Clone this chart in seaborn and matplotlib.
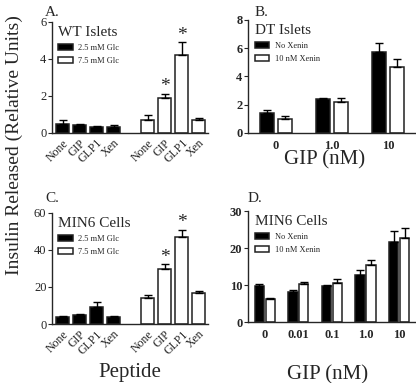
import numpy as np
import pandas as pd
import matplotlib
matplotlib.use('Agg')
import matplotlib.pyplot as plt
import seaborn as sns

# panels A and C: peptide stimulation at two glucose levels
peptides = ['None', 'GIP', 'GLP1', 'Xen']
glucose = ['2.5 mM Glc', '7.5 mM Glc']
wt_low = [0.5, 0.4, 0.3, 0.3]
wt_low_err = [0.2, 0.1, 0.05, 0.12]
wt_high = [0.7, 1.9, 4.2, 0.7]
wt_high_err = [0.25, 0.22, 0.7, 0.12]
min6_low = [4.0, 5.0, 9.0, 3.8]
min6_low_err = [0.3, 0.3, 3.0, 0.3]
min6_high = [14.0, 29.5, 47.0, 17.0]
min6_high_err = [1.6, 2.8, 4.0, 0.8]
starred = ['GIP', 'GLP1']

# panels B and D: GIP dose with / without xenin
xenin = ['No Xenin', '10 nM Xenin']
gip_dt = ['0', '1.0', '10']
dt_none = [1.4, 2.4, 5.7]
dt_none_err = [0.25, 0.1, 0.65]
dt_xen = [0.95, 2.2, 4.65]
dt_xen_err = [0.25, 0.25, 0.6]
gip_min6 = ['0', '0.01', '0.1', '1.0', '10']
m6_none = [9.8, 8.0, 9.8, 12.8, 21.7]
m6_none_err = [0.4, 0.7, 0.15, 1.2, 3.0]
m6_xen = [6.2, 10.2, 10.5, 15.3, 22.7]
m6_xen_err = [0.2, 0.5, 1.1, 1.4, 2.8]

sns.set_style('ticks')
plt.rcParams['font.family'] = ['Liberation Serif', 'DejaVu Serif']
plt.rcParams['axes.linewidth'] = 1.0

EDGE = '#202020'


def add_errors(ax, errs, stars=None):
    for k, (cont, err) in enumerate(zip(ax.containers, errs)):
        xs = [b.get_x() + b.get_width() / 2 for b in cont]
        ys = [b.get_height() for b in cont]
        ax.errorbar(xs, ys, yerr=[np.zeros(len(err)), err], fmt='none',
                    ecolor='black', elinewidth=1.0, capsize=3, capthick=1.0, zorder=1)
        if stars is not None:
            for x, y, e, s in zip(xs, ys, err, stars[k]):
                if s:
                    ax.annotate('*', (x, y + e), xytext=(0, -1), textcoords='offset points',
                                ha='center', va='bottom', fontsize=14)


def style_legend(ax, title, title_size=11):
    handles, labels = ax.get_legend_handles_labels()
    ax.legend(handles, labels, title=title, loc='upper left', bbox_to_anchor=(0.02, 0.99),
              frameon=False, fontsize=6, title_fontsize=title_size, alignment='left',
              handlelength=1.7, handleheight=0.8, labelspacing=0.55, handletextpad=0.7,
              borderaxespad=0.2, borderpad=0.2)


def peptide_panel(ax, low, low_err, high, high_err, title, ymax, step):
    lo_keys = [p + '|lo' for p in peptides]
    hi_keys = [p + '|hi' for p in peptides]
    order = lo_keys + ['gap'] + hi_keys
    df = pd.DataFrame({'slot': lo_keys + hi_keys, 'value': low + high,
                       'glc': [glucose[0]] * 4 + [glucose[1]] * 4})
    sns.barplot(data=df, x='slot', y='value', hue='glc', order=order, hue_order=glucose,
                palette=['black', 'white'], dodge=False, width=0.76, edgecolor=EDGE,
                linewidth=1.1, errorbar=None, ax=ax)
    stars = [[False] * 4, [p in starred for p in peptides]]
    add_errors(ax, [low_err, high_err], stars)
    ax.set_xlim(-0.62, 8.55)
    ax.set_ylim(0, ymax)
    ax.set_yticks(np.arange(0, ymax + step / 2, step))
    ax.set_xticks(range(len(order)))
    ax.set_xticklabels(peptides + [''] + peptides, rotation=45, ha='right',
                       rotation_mode='anchor', fontsize=8.5)
    ax.tick_params(axis='x', length=0, pad=3)
    ax.tick_params(axis='y', length=3, labelsize=9, pad=1)
    style_legend(ax, title)


def dose_panel(ax, doses, none, none_err, xen, xen_err, title, ymax, step, width, gap):
    df = pd.DataFrame({'gip': doses * 2, 'value': none + xen,
                       'xen': [xenin[0]] * len(doses) + [xenin[1]] * len(doses)})
    sns.barplot(data=df, x='gip', y='value', hue='xen', order=doses, hue_order=xenin,
                palette=['black', 'white'], width=width, gap=gap, edgecolor=EDGE,
                linewidth=1.1, errorbar=None, ax=ax)
    add_errors(ax, [none_err, xen_err])
    ax.set_xlim(-0.5, len(doses) - 0.5)
    ax.set_ylim(0, ymax)
    ax.set_yticks(np.arange(0, ymax + step / 2, step))
    ax.tick_params(axis='x', length=0, pad=5, labelsize=9)
    ax.tick_params(axis='y', length=3, labelsize=9, pad=1)
    for lab in ax.get_xticklabels() + ax.get_yticklabels():
        lab.set_fontweight('bold')
    style_legend(ax, title)


fig = plt.figure(figsize=(4.16, 3.83), dpi=100)
axA = fig.add_axes([0.125, 0.653, 0.375, 0.29])
axB = fig.add_axes([0.596, 0.653, 0.404, 0.295])
axC = fig.add_axes([0.125, 0.154, 0.375, 0.29])
axD = fig.add_axes([0.596, 0.159, 0.404, 0.29])

peptide_panel(axA, wt_low, wt_low_err, wt_high, wt_high_err, 'WT Islets', 6, 2)
peptide_panel(axC, min6_low, min6_low_err, min6_high, min6_high_err, 'MIN6 Cells', 60, 20)
dose_panel(axB, gip_dt, dt_none, dt_none_err, dt_xen, dt_xen_err, 'DT Islets', 8, 2, 0.625, 0.2)
dose_panel(axD, gip_min6, m6_none, m6_none_err, m6_xen, m6_xen_err, 'MIN6 Cells', 30, 10, 0.65, 0.15)

for ax in (axA, axB, axC, axD):
    sns.despine(ax=ax)
    ax.set_xlabel('')
    ax.set_ylabel('')

fig.text(0.108, 0.985, 'A.', fontsize=11, va='top')
fig.text(0.612, 0.985, 'B.', fontsize=11, va='top')
fig.text(0.108, 0.5, 'C.', fontsize=11, va='top')
fig.text(0.594, 0.5, 'D.', fontsize=11, va='top')

fig.text(0.035, 0.62, 'Insulin Released (Relative Units)', rotation=90,
         ha='center', va='center', fontsize=14)
fig.text(0.779, 0.582, 'GIP (nM)', ha='center', va='center', fontsize=15)
fig.text(0.313, 0.028, 'Peptide', ha='center', va='center', fontsize=15)
fig.text(0.788, 0.022, 'GIP (nM)', ha='center', va='center', fontsize=15)

fig.savefig('out.png', dpi=100)
